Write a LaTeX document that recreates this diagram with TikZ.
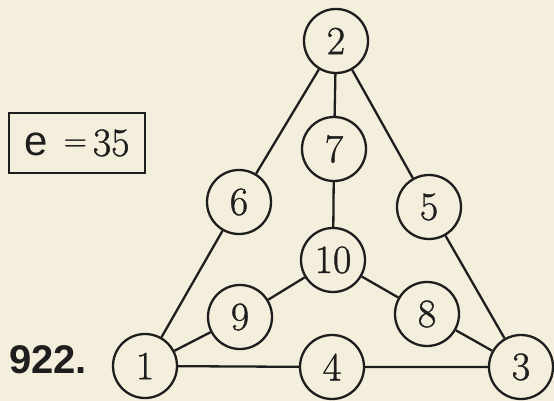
\documentclass[tikz,border=0pt]{standalone}
\usepackage{fontspec}
\newfontfamily\hel{Liberation Sans}
\newfontfamily\digs[FakeBold=1]{Latin Modern Roman}
\definecolor{paper}{HTML}{F4EEDC}
\definecolor{ink}{HTML}{1E1E1E}
\begin{document}
\begin{tikzpicture}[x=1pt,y=-1pt,
  num/.style={circle,draw=ink,line width=2.3pt,minimum size=64pt,inner sep=0pt,
    font=\digs\fontsize{40}{40}\selectfont,text=ink},
  edge/.style={draw=ink,line width=2.3pt}]
\fill[paper] (0,0) rectangle (554,401);
\useasboundingbox (0,0) rectangle (554,401);
\node[num] (n2) at (336,41) {2};
\node[num] (n7) at (334,149) {7};
\node[num] (n6) at (239,202) {6};
\node[num] (n5) at (429,207) {5};
\node[num] (n10) at (333,260) {10};
\node[num] (n9) at (240,317) {9};
\node[num] (n8) at (427,314) {8};
\node[num] (n1) at (145,366) {1};
\node[num] (n4) at (332,367) {4};
\node[num] (n3) at (521,367) {3};
\path[edge] (n2) -- (n6) (n2) -- (n7) (n2) -- (n5) (n7) -- (n10)
  (n6) -- (n1) (n5) -- (n3) (n10) -- (n9) (n10) -- (n8)
  (n9) -- (n1) (n8) -- (n3) (n1) -- (n4) (n4) -- (n3);
\node[draw=ink,line width=2.3pt,minimum width=136pt,minimum height=60pt,inner sep=0pt,text=ink]
  (box) at (77,143) {{\hel\fontsize{42}{42}\selectfont e}\hspace{16pt}\raisebox{5pt}{\digs\fontsize{32}{32}\selectfont =}\hspace{6pt}{\digs\fontsize{40}{40}\selectfont 35}};
\node[anchor=base west,inner sep=0pt,text=ink,font=\hel\bfseries\fontsize{40}{40}\selectfont] (lbl) at (9,373) {922.};
\end{tikzpicture}
\end{document}
